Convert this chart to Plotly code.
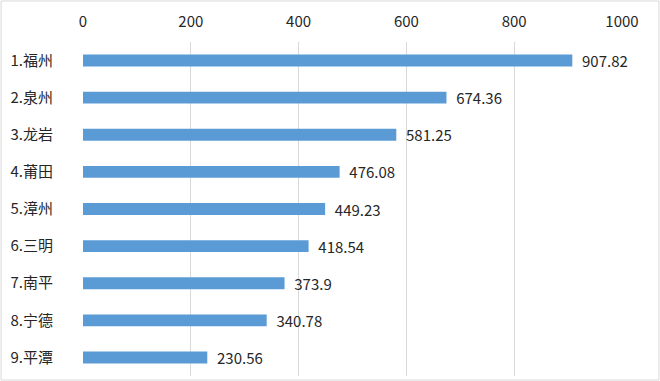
import plotly.graph_objects as go

categories = ["1.福州", "2.泉州", "3.龙岩", "4.莆田", "5.漳州", "6.三明", "7.南平", "8.宁德", "9.平潭"]
values = [907.82, 674.36, 581.25, 476.08, 449.23, 418.54, 373.9, 340.78, 230.56]
tick_vals = [0, 200, 400, 600, 800, 1000]

font_family = "Microsoft YaHei, Noto Sans CJK SC, DejaVu Sans, sans-serif"

fig = go.Figure(go.Bar(
    y=categories,
    x=values,
    orientation="h",
    marker=dict(color="#5B9BD5", line=dict(width=0)),
    width=0.32,
    text=[str(v) for v in values],
    texttemplate="\u00a0\u00a0%{text}",
    textposition="outside",
    constraintext="none",
    textfont=dict(size=15, color="#262626", family=font_family),
    cliponaxis=False,
))

fig.update_layout(
    width=660, height=381,
    margin=dict(l=83, r=38, t=42, b=5),
    paper_bgcolor="white",
    plot_bgcolor="white",
    showlegend=False,
    font=dict(family=font_family, size=14, color="#262626"),
    xaxis=dict(
        side="top", range=[0, 1000], tickvals=tick_vals,
        showgrid=True, gridcolor="#D9D9D9", gridwidth=1,
        zeroline=False, showline=False, ticks="",
        tickfont=dict(size=15, color="#262626"),
        ticklabelstandoff=11, automargin=False,
    ),
    yaxis=dict(
        categoryorder="array", categoryarray=categories, autorange="reversed",
        showgrid=False, zeroline=False, showline=False, ticks="",
        tickfont=dict(size=15, color="#262626"),
        ticklabelstandoff=29, automargin=False,
    ),
    shapes=[dict(
        type="rect", xref="paper", yref="paper",
        x0=-0.152, x1=1.0686, y0=-0.012, y1=1.1228,
        line=dict(color="#D9D9D9", width=1), fillcolor="rgba(0,0,0,0)",
        layer="below",
    )],
)

fig.write_html(
    "out.html",
    config={"displayModeBar": False},
    post_script="document.body.style.margin='0';document.body.style.overflow='hidden';",
)
